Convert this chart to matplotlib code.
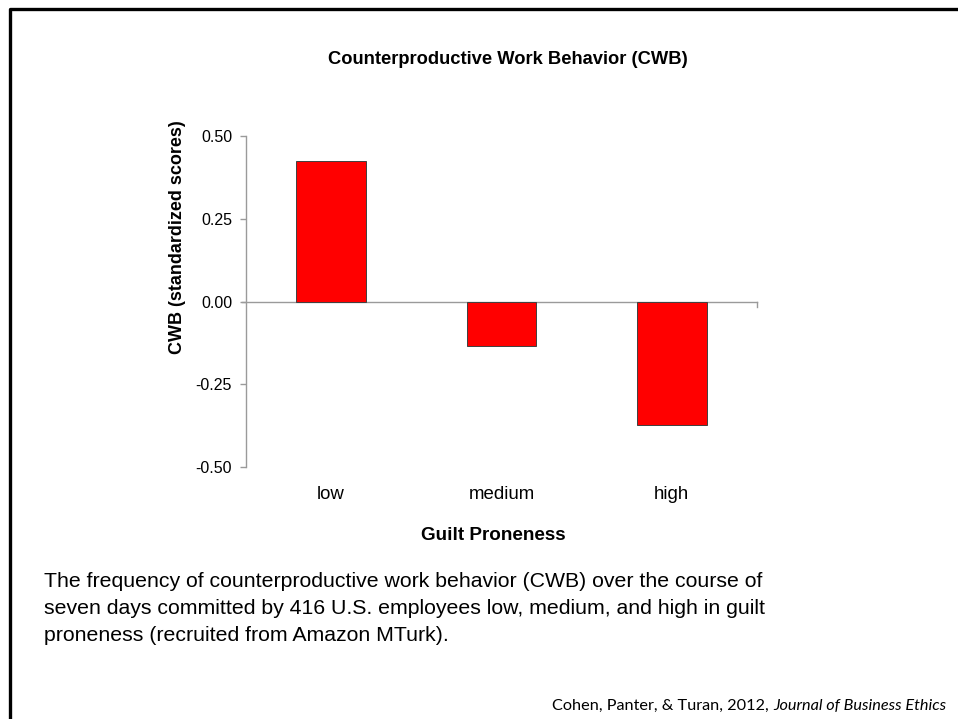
import matplotlib
matplotlib.use("Agg")
import matplotlib.pyplot as plt
from matplotlib.lines import Line2D

# guilt proneness groups and their CWB means (standardized)
categories = ["low", "medium", "high"]
cwb_scores = [0.425, -0.133, -0.373]
y_ticks = [-0.50, -0.25, 0.00, 0.25, 0.50]

caption = ("The frequency of counterproductive work behavior (CWB) over the course of\n"
           "seven days committed by 416 U.S. employees low, medium, and high in guilt\n"
           "proneness (recruited from Amazon MTurk).")

plt.rcParams["font.family"] = ["Liberation Sans", "DejaVu Sans"]

fig = plt.figure(figsize=(9.58, 7.19), dpi=100)
W, H = 958, 719

# slide frame (left and top only)
fig.add_artist(Line2D([10 / W, 10 / W, 1.0], [0.0, 1 - 9 / H, 1 - 9 / H],
                      transform=fig.transFigure, color="black", lw=2.4))

ax = fig.add_axes([246 / W, 1 - 467 / H, 511 / W, 331 / H])
x = range(len(categories))
ax.bar(x, cwb_scores, width=0.41, color="#FF0000", edgecolor="#404040", linewidth=0.7, zorder=3)

ax.set_xlim(-0.5, 2.5)
ax.set_ylim(-0.5, 0.5)
ax.set_yticks(y_ticks)
ax.set_yticklabels([f"{v:.2f}" for v in y_ticks])
ax.set_xticks(list(x))
ax.set_xticklabels(categories)

gray = "#9a9a9a"
for s in ["top", "right", "bottom"]:
    ax.spines[s].set_visible(False)
ax.spines["left"].set_color(gray)
ax.spines["left"].set_linewidth(1.0)
ax.tick_params(axis="y", colors=gray, labelcolor="black", labelsize=11.5, length=4, width=1.0, pad=6)
ax.tick_params(axis="x", length=0, labelsize=13.4, pad=14)

# zero line with the small end tick, Excel style
ax.axhline(0, xmin=-0.008, xmax=1.0, color=gray, lw=1.0, clip_on=False, zorder=2)
ax.axvline(2.5, ymin=0.5, ymax=0.5 - 5 / 331, color=gray, lw=1.0, clip_on=False)

fig.text(508 / W, 1 - 59 / H, "Counterproductive Work Behavior (CWB)",
         ha="center", va="center", fontsize=13.2, fontweight="bold")
fig.text(178 / W, 1 - 237 / H, "CWB (standardized scores)", rotation=90,
         ha="center", va="center", fontsize=13.0, fontweight="bold")
fig.text(493 / W, 1 - 535 / H, "Guilt Proneness",
         ha="center", va="center", fontsize=13.6, fontweight="bold")

fig.text(44 / W, 1 - 572 / H, caption, ha="left", va="top", fontsize=15.3, linespacing=1.52)

t1 = fig.text(552 / W, 1 - 706 / H, "Cohen, Panter, & Turan, 2012, ",
              ha="left", va="center", fontsize=11.7, family=["Lato", "DejaVu Sans"])
fig.canvas.draw()
bb = t1.get_window_extent()
fig.text(bb.x1 / W, 1 - 706 / H, "Journal of Business Ethics",
         ha="left", va="center", fontsize=11.7, style="italic", family=["Lato", "DejaVu Sans"])

fig.savefig("out.png", dpi=100)
